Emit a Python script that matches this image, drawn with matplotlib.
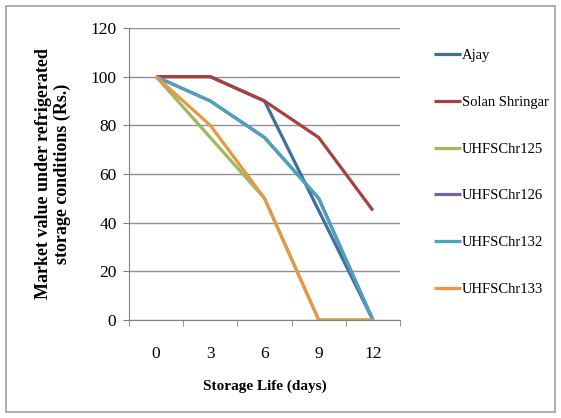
import matplotlib.pyplot as plt
from matplotlib.patches import Rectangle

days = ["0", "3", "6", "9", "12"]
ajay = [100, 100, 90, 45, 0]
solan = [100, 100, 90, 75, 45]
chr125 = [100, 75, 50, 0, 0]
chr126 = [100, 90, 75, 50, 0]
chr132 = [100, 90, 75, 50, 0]
chr133 = [100, 80, 50, 0, 0]

series = [
    ("Ajay", ajay, "#3F6E9F"),
    ("Solan Shringar", solan, "#A8403D"),
    ("UHFSChr125", chr125, "#9BBB59"),
    ("UHFSChr126", chr126, "#7560A0"),
    ("UHFSChr132", chr132, "#4BA3BE"),
    ("UHFSChr133", chr133, "#E8964A"),
]

plt.rcParams['font.family'] = ['Liberation Serif', 'DejaVu Serif']

fig = plt.figure(figsize=(5.61, 4.18), dpi=100)
ax = fig.add_axes([129 / 561, 1 - 320 / 418, 271 / 561, 292 / 418])

x = list(range(len(days)))
for name, vals, col in series:
    ax.plot(x, vals, color=col, lw=2.3, label=name, solid_capstyle='butt')

ax.set_xlim(-0.5, 4.5)
ax.set_ylim(0, 120)
ax.set_yticks(range(0, 121, 20))
ax.set_xticks(x)
ax.set_xticklabels(days)
ax.set_xticks([i - 0.5 for i in range(6)], minor=True)
ax.tick_params(axis='x', which='major', length=0, pad=19, labelsize=12.5)
ax.tick_params(axis='x', which='minor', length=4, color='#808080', direction='out')
ax.tick_params(axis='y', length=4, color='#808080', labelsize=12.5, pad=5)
ax.grid(axis='y', color='#909090', lw=1)
ax.set_axisbelow(True)
for s in ['top', 'right']:
    ax.spines[s].set_visible(False)
for s in ['left', 'bottom']:
    ax.spines[s].set_color('#808080')

ax.set_xlabel("Storage Life (days)", fontweight='bold', fontsize=11, labelpad=12)
ax.set_ylabel("Market value under refrigerated\nstorage conditions (Rs.)",
              fontweight='bold', fontsize=13, labelpad=14, linespacing=1.1)

leg = ax.legend(loc='upper left', bbox_to_anchor=(1.105, 0.948), frameon=False,
                fontsize=10.5, handlelength=1.85, handletextpad=0.05,
                labelspacing=2.3, borderaxespad=0)

fig.patches.append(Rectangle((6 / 561, 6 / 418), 549 / 561, 406 / 418,
                             transform=fig.transFigure, fill=False,
                             edgecolor='#a0a0a0', lw=1.2))

fig.savefig("out.png", dpi=100)
